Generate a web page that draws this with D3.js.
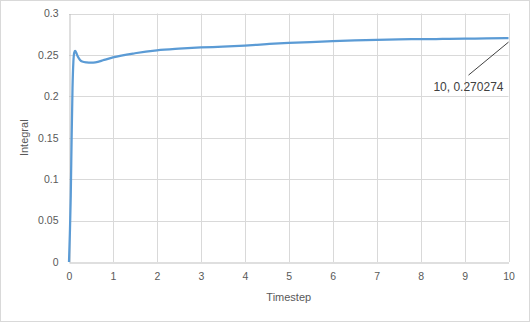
<!DOCTYPE html>
<html>
<head>
<meta charset="utf-8">
<script src="https://cdn.jsdelivr.net/npm/d3@7"></script>
<style>
  body { margin: 0; background: #fff; }
  svg { display: block; font-family: "Liberation Sans", Arial, sans-serif; }
  .tick text { fill: #595959; font-size: 10.5px; }
</style>
</head>
<body>
<svg id="chart" width="530" height="322"></svg>
<script>
// timestep vs integral
var timesteps = [0, 0.02, 0.04, 0.06, 0.08, 0.1, 0.12, 0.14, 0.17, 0.2, 0.25, 0.3, 0.4, 0.5, 0.6, 0.8,
  1, 1.5, 2, 2.5, 3, 3.5, 4, 4.5, 5, 5.5, 6, 6.5, 7, 7.5, 8, 8.5, 9, 9.5, 10];
var integral = [0, 0.035, 0.08, 0.15, 0.21, 0.242, 0.253, 0.255, 0.252, 0.248, 0.244, 0.242, 0.241, 0.2407, 0.241, 0.244,
  0.247, 0.252, 0.2555, 0.2575, 0.259, 0.26, 0.2613, 0.263, 0.2645, 0.2655, 0.2665, 0.2675, 0.2683, 0.2688, 0.269, 0.2693, 0.2696, 0.27, 0.270274];
var xTicks = [0, 1, 2, 3, 4, 5, 6, 7, 8, 9, 10];
var yTicks = [0, 0.05, 0.1, 0.15, 0.2, 0.25, 0.3];
var lastLabel = "10, 0.270274";

var svg = d3.select("#chart");
var W = 530, H = 322;
var m = {left: 69, right: 21.5, top: 13.5, bottom: 60};

svg.append("rect").attr("x", 0.5).attr("y", 0.5).attr("width", W - 1).attr("height", H - 1)
  .attr("fill", "#fff").attr("stroke", "#d9d9d9");

var x = d3.scaleLinear().domain([0, 10]).range([m.left, W - m.right]);
var y = d3.scaleLinear().domain([0, 0.3]).range([H - m.bottom, m.top]);

// grid
svg.append("g").selectAll("line").data(yTicks.slice(1)).enter().append("line")
  .attr("x1", x(0)).attr("x2", x(10))
  .attr("y1", function(d) { return Math.round(y(d)) + 0.5; })
  .attr("y2", function(d) { return Math.round(y(d)) + 0.5; })
  .attr("stroke", "#d9d9d9");
svg.append("g").selectAll("line").data(xTicks.slice(1)).enter().append("line")
  .attr("y1", y(0)).attr("y2", y(0.3))
  .attr("x1", function(d) { return Math.round(x(d)) + 0.5; })
  .attr("x2", function(d) { return Math.round(x(d)) + 0.5; })
  .attr("stroke", "#d9d9d9");

// axes
var xAxis = svg.append("g").attr("transform", "translate(0," + (Math.round(y(0)) + 0.5) + ")")
  .call(d3.axisBottom(x).tickValues(xTicks).tickSize(0).tickPadding(10).tickFormat(d3.format("d")));
xAxis.select(".domain").attr("stroke", "#bfbfbf");

var yAxis = svg.append("g").attr("transform", "translate(" + (Math.round(x(0)) + 0.5) + ",0)")
  .call(d3.axisLeft(y).tickValues(yTicks).tickSize(0).tickPadding(11).tickFormat(function(d) { return d3.format("")(+d.toFixed(2)); }));
yAxis.select(".domain").attr("stroke", "#bfbfbf");

// titles
svg.append("text").attr("x", (x(0) + x(10)) / 2).attr("y", 301).attr("text-anchor", "middle")
  .attr("fill", "#595959").attr("font-size", "11px").text("Timestep");
svg.append("text").attr("transform", "translate(28," + ((y(0) + y(0.3)) / 2) + ") rotate(-90)")
  .attr("text-anchor", "middle").attr("fill", "#595959").attr("font-size", "11px").text("Integral");

// series
var line = d3.line().x(function(d, i) { return x(timesteps[i]); }).y(function(d) { return y(d); })
  .curve(d3.curveMonotoneX);
svg.append("path").datum(integral).attr("d", line)
  .attr("fill", "none").attr("stroke", "#5b9bd5").attr("stroke-width", 2.25).attr("stroke-linejoin", "round");

// data label for last point
var lx = x(10), ly = y(integral[integral.length - 1]);
svg.append("line").attr("x1", lx).attr("y1", ly + 4).attr("x2", lx - 40).attr("y2", ly + 37)
  .attr("stroke", "#000").attr("stroke-width", 0.75);
svg.append("text").attr("x", lx - 5).attr("y", ly + 53).attr("text-anchor", "end")
  .attr("fill", "#404040").attr("font-size", "12px").text(lastLabel);
</script>
</body>
</html>
